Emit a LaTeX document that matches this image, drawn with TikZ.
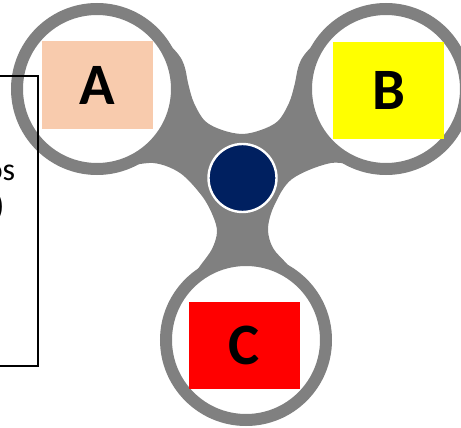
\documentclass[tikz,border=0pt]{standalone}
\usepackage{fontspec}
\setmainfont{Carlito}
\definecolor{spingray}{HTML}{808080}
\definecolor{hubnavy}{HTML}{002060}
\definecolor{peach}{HTML}{F8CBAD}
\definecolor{sqyellow}{HTML}{FFFF00}
\definecolor{sqred}{HTML}{FF0000}
\tikzset{
  ringnode/.style={circle, draw=spingray, fill=white, line width=9pt, minimum size=120pt, inner sep=0pt},
  hubnode/.style={circle, draw=white, fill=hubnavy, line width=1.8pt, minimum size=51pt, inner sep=0pt},
  sqbox/.style={rectangle, inner sep=0pt, font=\fontsize{44}{50}\selectfont\bfseries},
  panelbox/.style={rectangle, draw=black, line width=1.5pt, inner sep=0pt},
  paneltext/.style={inner sep=0pt, font=\fontsize{24}{29}\selectfont, anchor=base east}
}
\begin{document}
\begin{tikzpicture}[x=0.75pt,y=-0.75pt]
\useasboundingbox (0,0) rectangle (461,428);
\clip (0,0) rectangle (461,428);
% spinner body
\fill[spingray] (97,89)
  -- plot[smooth, tension=0.55] coordinates {(160,36) (174.6,50) (182,60) (185.5,70) (188.5,85) (194,103) (205,121) (222,130) (242,134) (261,130) (278,121) (289,103) (294.5,85) (297.5,70) (301,60) (308.4,50) (323,36)}
  -- (386,89)
  -- plot[smooth, tension=0.55] coordinates {(360,167) (331,163) (292,179) (274,206) (268,229) (273,248) (287,264) (300,280)}
  -- (246,340)
  -- plot[smooth, tension=0.55] coordinates {(190,280) (200,266) (212,249) (217,232) (213,216) (202,196) (180,173) (153,163) (120,168)}
  -- cycle;
% rings
\node[ringnode] (ringA) at (97,89) {};
\node[ringnode] (ringB) at (386,89) {};
\node[ringnode] (ringC) at (246,340) {};
% hub
\node[hubnode] (hub) at (242.5,178) {};
% squares
\node[sqbox, fill=peach, minimum width=83.25pt, minimum height=66pt] (sqA) at (97.5,85) {A};
\node[sqbox, fill=sqyellow, minimum width=83.25pt, minimum height=72.75pt] (sqB) at (388.5,90.5) {B};
\node[sqbox, fill=sqred, minimum width=83.25pt, minimum height=65.25pt] (sqC) at (244.5,345.5) {C};
% left panel
\node[panelbox, minimum width=103.5pt, minimum height=217.7pt] (panel) at (-31,221.2) {};
\node[paneltext] (ptA) at (15.5,180.5) {os};
\node[paneltext] (ptB) at (4.5,216) {)};
\end{tikzpicture}
\end{document}
